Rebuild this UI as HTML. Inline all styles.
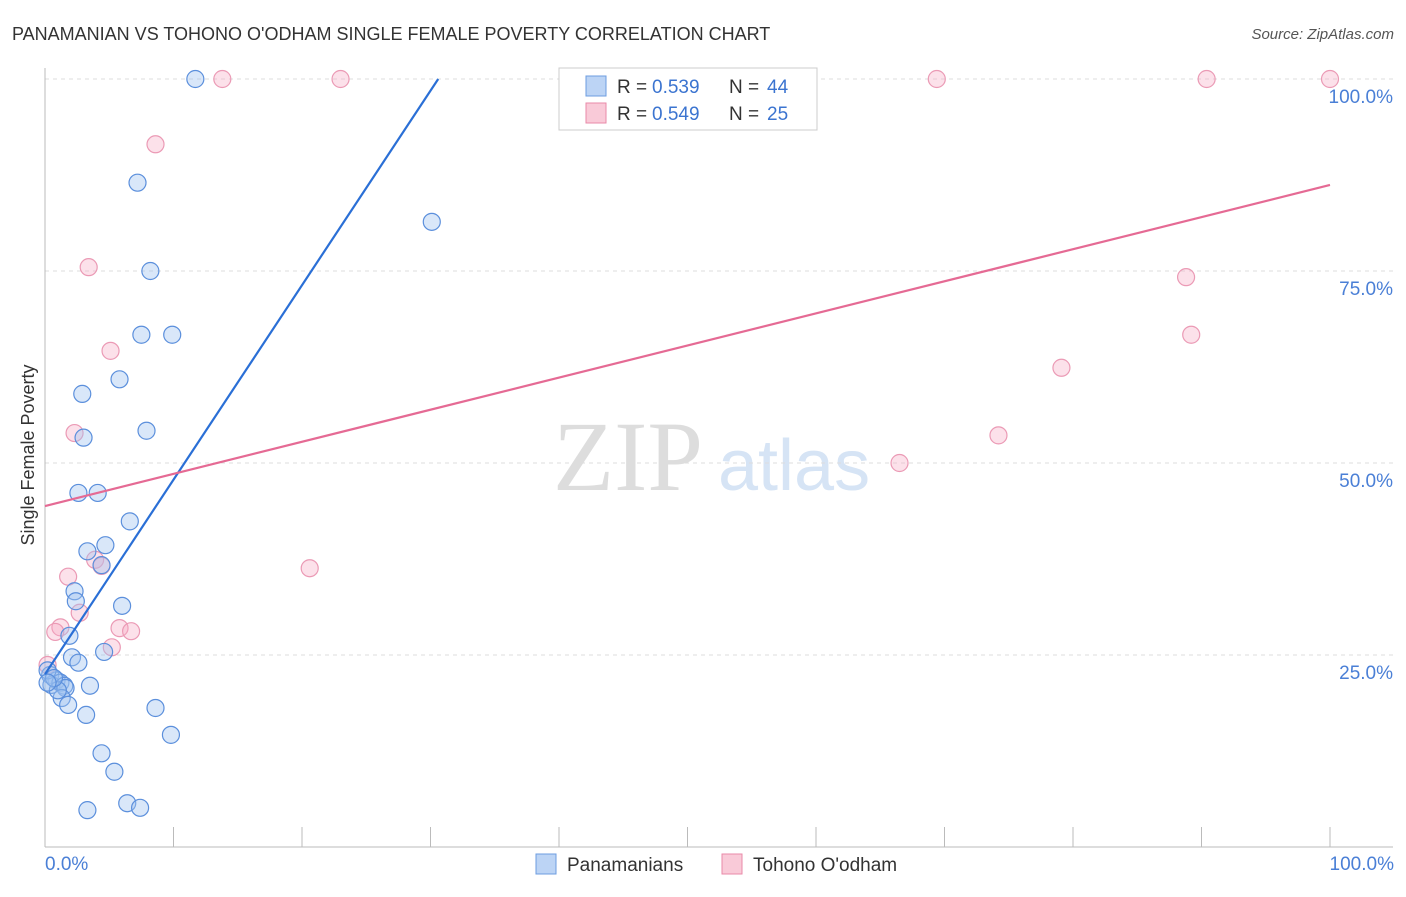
<!DOCTYPE html>
<html><head><meta charset="utf-8"><style>
body{margin:0;background:#fff;font-family:"Liberation Sans",sans-serif}
</style></head><body>
<svg width="1406" height="892" font-family="Liberation Sans, sans-serif">
<text x="12" y="40" font-size="18" fill="#333">PANAMANIAN VS TOHONO O'ODHAM SINGLE FEMALE POVERTY CORRELATION CHART</text>
<text x="1394" y="39" font-size="15" fill="#555" font-style="italic" text-anchor="end">Source: ZipAtlas.com</text>
<g>
<text x="553" y="490" font-size="100" fill="#ddd" style="font-family:'Liberation Serif',serif">ZIP</text>
<text x="718" y="490" font-size="72" fill="#d6e4f5">atlas</text>
</g>
<g id="grid"></g>
<g id="axes"></g>
<g id="marks"></g>
<text transform="translate(34,455) rotate(-90)" font-size="18" fill="#333" text-anchor="middle">Single Female Poverty</text>
<text x="45" y="870" font-size="19" fill="#4a7fd6">0.0%</text>
<text x="1394" y="870" font-size="19" fill="#4a7fd6" text-anchor="end">100.0%</text>
<g>
<rect x="559" y="68" width="258" height="62" fill="#fff" stroke="#ccc"/>
<rect x="586" y="76" width="20" height="20" fill="#bcd4f5" stroke="#6d9de0"/>
<text x="617" y="93" font-size="19" fill="#333">R =</text>
<text x="652" y="93" font-size="19" fill="#3b74d0">0.539</text>
<text x="729" y="93" font-size="19" fill="#333">N =</text>
<text x="767" y="93" font-size="19" fill="#3b74d0">44</text>
<rect x="586" y="103" width="20" height="20" fill="#f9cad8" stroke="#e98aa8"/>
<text x="617" y="120" font-size="19" fill="#333">R =</text>
<text x="652" y="120" font-size="19" fill="#3b74d0">0.549</text>
<text x="729" y="120" font-size="19" fill="#333">N =</text>
<text x="767" y="120" font-size="19" fill="#3b74d0">25</text>
</g>
<g>
<rect x="536" y="854" width="20" height="20" fill="#bcd4f5" stroke="#6d9de0"/>
<text x="567" y="871" font-size="19" fill="#333">Panamanians</text>
<rect x="722" y="854" width="20" height="20" fill="#f9cad8" stroke="#e98aa8"/>
<text x="753" y="871" font-size="19" fill="#333">Tohono O'odham</text>
</g>
</svg>
<script>
const yTicks=[25,50,75,100];
const yTickLabels=["25.0%","50.0%","75.0%","100.0%"];
const xTicks=[10,20,30,40,50,60,70,80,90,100];
const blueX=[11.7,7.2,30.1,8.2,7.5,9.9,5.8,2.9,7.9,3.0,2.6,4.1,6.6,4.7,3.3,4.4,2.3,2.4,6.0,1.9,2.1,4.6,2.6,0.4,0.9,0.5,1.2,1.5,1.6,1.3,3.5,1.8,3.2,8.6,9.8,4.4,5.4,6.4,7.4,3.3,0.2,1.0,0.7,0.2];
const blueY=[100,86.5,81.4,75,66.7,66.7,60.9,59,54.2,53.3,46.1,46.1,42.4,39.3,38.5,36.7,33.3,32,31.4,27.5,24.7,25.4,24,22.4,21.7,21.1,21.4,21,20.7,19.4,21,18.5,17.2,18.1,14.6,12.2,9.8,5.7,5.1,4.8,23,20.4,22,21.4];
const pinkX=[13.8,23,69.4,90.4,100,8.6,3.4,5.1,2.3,1.8,3.9,4.4,2.7,1.2,0.8,5.8,6.7,5.2,0.2,20.6,66.5,74.2,79.1,88.8,89.2];
const pinkY=[100,100,100,100,100,91.5,75.5,64.6,53.9,35.2,37.4,36.6,30.5,28.6,28,28.5,28.1,26,23.7,36.3,50,53.6,62.4,74.2,66.7];
const blueLine=[[0,22.5],[30.6,100]];
const pinkLine=[[0,44.4],[100,86.2]];
const X=v=>45+v*12.85, Y=v=>847-v*7.68;
const NS="http://www.w3.org/2000/svg";
function mk(p,t,a){const e=document.createElementNS(NS,t);for(const k in a)e.setAttribute(k,a[k]);document.getElementById(p).appendChild(e);return e;}
yTicks.forEach((t,i)=>{
 const l=mk("grid","line",{x1:45,x2:1393,y1:Y(t),y2:Y(t),stroke:"#ddd","stroke-dasharray":"4,4"});
 
 
 const tx=mk("grid","text",{x:1393,y:Y(t)+24,"font-size":19,fill:"#4a7fd6","text-anchor":"end"});
 tx.textContent=yTickLabels[i];
 
 
});
let a=mk("axes","line",{x1:45,x2:45,y1:68,y2:847,stroke:"#bbb"});


a=mk("axes","line",{x1:45,x2:1393,y1:847,y2:847,stroke:"#bbb"});


xTicks.forEach(t=>{
 const l=mk("axes","line",{x1:X(t),x2:X(t),y1:827,y2:847,stroke:"#bbb"});
 
 
});
pinkX.forEach((v,i)=>{
 const c=mk("marks","circle",{cx:X(v),cy:Y(pinkY[i]),r:8.5,fill:"rgba(246,170,195,0.35)",stroke:"#eb9ab5","stroke-width":1.2});
 
 
});
blueX.forEach((v,i)=>{
 const c=mk("marks","circle",{cx:X(v),cy:Y(blueY[i]),r:8.5,fill:"rgba(160,195,240,0.4)",stroke:"#5b8fdc","stroke-width":1.2});
 
 
});
let ln=mk("marks","line",{x1:X(blueLine[0][0]),y1:Y(blueLine[0][1]),x2:X(blueLine[1][0]),y2:Y(blueLine[1][1]),stroke:"#2a6fd6","stroke-width":2.2});


ln=mk("marks","line",{x1:X(pinkLine[0][0]),y1:Y(pinkLine[0][1]),x2:X(pinkLine[1][0]),y2:Y(pinkLine[1][1]),stroke:"#e56a94","stroke-width":2.2});


</script>
</body></html>
